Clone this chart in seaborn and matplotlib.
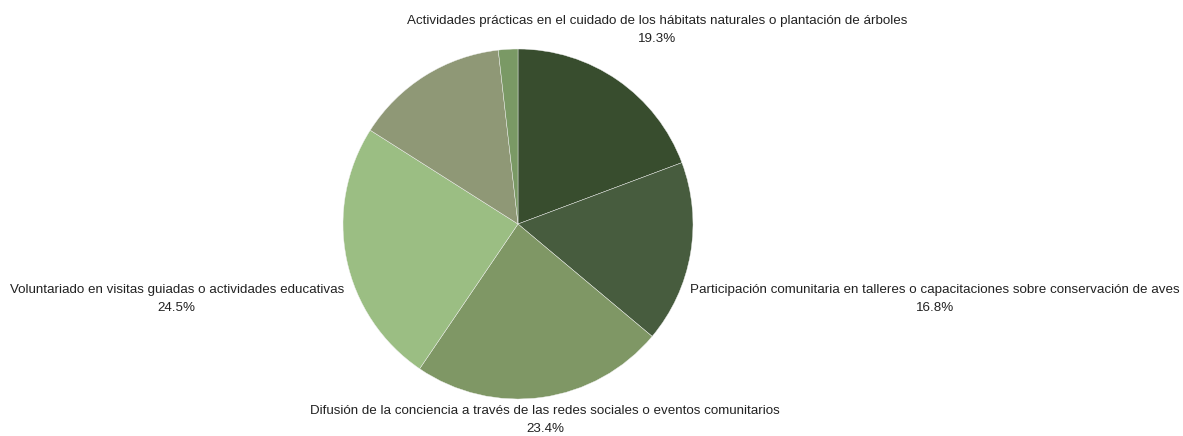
import matplotlib
matplotlib.use("Agg")
import matplotlib.pyplot as plt
import numpy as np
import seaborn as sns

# slice data, clockwise from 12 o'clock
categories = [
    "Actividades prácticas en el cuidado de los hábitats naturales o plantación de árboles",
    "Participación comunitaria en talleres o capacitaciones sobre conservación de aves",
    "Difusión de la conciencia a través de las redes sociales o eventos comunitarios",
    "Voluntariado en visitas guiadas o actividades educativas",
    "Otras actividades",
    "Otro",
]
shares = [19.3, 16.8, 23.4, 24.5, 14.2, 1.8]
show_label = [True, True, True, True, False, False]

colors = ["#384d2e", "#475c3e", "#7f9765", "#9bbe83", "#8f9876", "#7a9965"]

# label anchor (data units, pie radius = 1) and horizontal alignment
label_layout = [
    (0.794, 1.107, "center"),
    (0.985, -0.43, "left"),
    (0.154, -1.12, "center"),
    (-0.995, -0.43, "right"),
    None,
    None,
]

sns.set_theme(style="white")
plt.rcParams["font.family"] = ["Liberation Sans", "DejaVu Sans"]

W, H = 1183, 436
cx, cy, r = 518, 224, 175
fig = plt.figure(figsize=(W / 100, H / 100), dpi=100)
ax = fig.add_axes([0, 0, 1, 1])

ax.pie(
    shares,
    colors=colors,
    startangle=90,
    counterclock=False,
    radius=1.0,
    wedgeprops={"edgecolor": "#f2f2f2", "linewidth": 0.3},
)

for cat, val, show, lay in zip(categories, shares, show_label, label_layout):
    if not show:
        continue
    x, y, ha = lay
    ax.text(x, y, f"{cat}\n{val:.1f}%", ha=ha, va="center", multialignment="center",
            fontsize=9.6, color="#222222", linespacing=1.65)

ax.set_aspect("auto")
ax.set_xlim(-cx / r, (W - cx) / r)
ax.set_ylim(-(H - cy) / r, cy / r)
ax.axis("off")

fig.savefig("out.png", dpi=100, facecolor="white")
